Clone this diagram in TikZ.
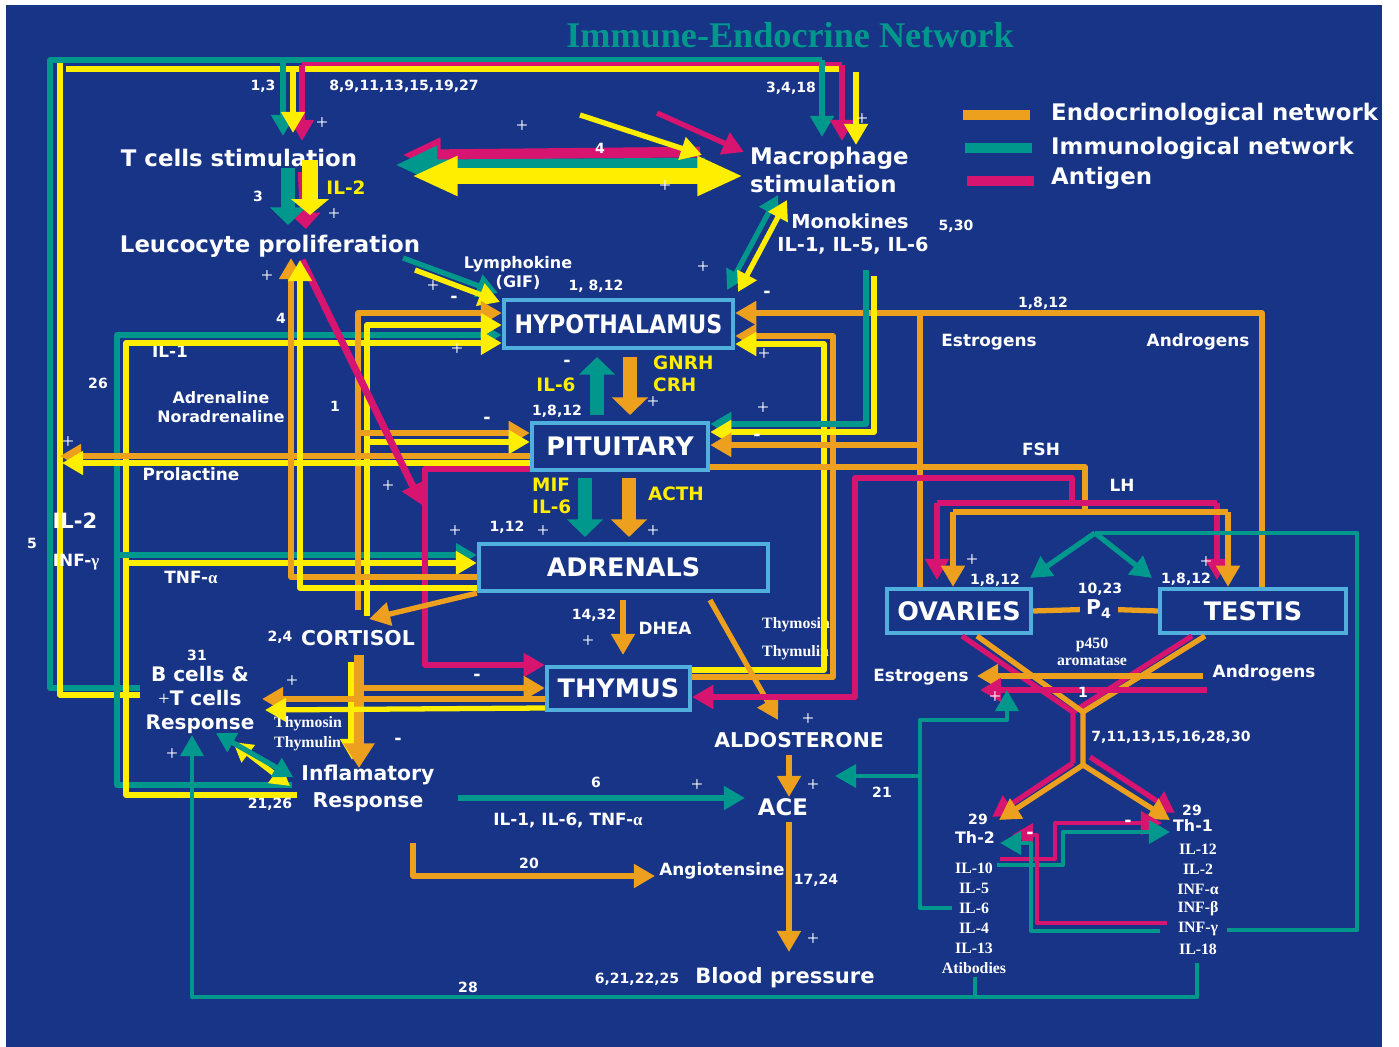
\documentclass[tikz,border=0pt]{standalone}
\usepackage{graphicx}
\usepackage{fontspec}
\setmainfont{DejaVu Sans}
\newfontfamily\timesfont{Liberation Serif}
\usetikzlibrary{arrows.meta}

\definecolor{netblue}{RGB}{24,52,134}
\definecolor{endo}{RGB}{236,160,30}
\definecolor{immu}{RGB}{0,152,140}
\definecolor{anti}{RGB}{215,20,112}
\definecolor{yell}{RGB}{255,238,0}
\definecolor{organline}{RGB}{80,175,220}

\tikzset{
	organ/.style={draw=organline,line width=2.5pt,fill=netblue,text=white,inner sep=0pt,
		font=\bfseries\fontsize{14.5}{15}\selectfont},
	big/.style={text=white,font=\bfseries\fontsize{13}{15.9}\selectfont},
	mid/.style={text=white,font=\bfseries\fontsize{11.6}{15.3}\selectfont},
	sml/.style={text=white,font=\bfseries\fontsize{9.6}{11.3}\selectfont},
	num/.style={text=white,font=\bfseries\fontsize{8}{9}\selectfont},
	hor/.style={text=yell,font=\bfseries\fontsize{10.5}{12.5}\selectfont},
	cyto/.style={text=white,font=\timesfont\bfseries\fontsize{9}{11}\selectfont},
	pls/.style={text=white,font=\timesfont\fontsize{12}{12}\selectfont,inner sep=0pt},
	mns/.style={text=white,font=\bfseries\fontsize{10}{10}\selectfont,inner sep=0pt},
	endo line/.style={draw=endo,line width=3pt,line join=round},
	immu line/.style={draw=immu,line width=3pt,line join=round},
	anti line/.style={draw=anti,line width=3pt,line join=round},
	yell line/.style={draw=yell,line width=3pt,line join=round},
	hd/.style={-{Triangle[length=12pt,width=13pt]}},
	hdd/.style={{Triangle[length=11pt,width=12pt]}-{Triangle[length=11pt,width=12pt]}},
	fathd/.style={line width=8pt,-{Triangle[length=10pt,width=20pt]}},
}

\begin{document}
\begin{tikzpicture}[x=0.02cm,y=-0.02cm]
	\useasboundingbox (0,0) rectangle (1399,1047);
	\fill[white] (0,0) rectangle (1399,1047);
	\fill[netblue] (6,5) rectangle (1382,1047);

	% the glands
	\node[organ,minimum width=4.58cm,minimum height=0.96cm] (hyp) at (618.5,324) {\scalebox{0.87}[1]{HYPOTHALAMUS}};
	\node[organ,minimum width=3.52cm,minimum height=0.94cm] (pit) at (620,446.5) {PITUITARY};
	\node[organ,minimum width=5.78cm,minimum height=0.94cm] (adr) at (623.5,567.5) {ADRENALS};
	\node[organ,minimum width=2.86cm,minimum height=0.86cm] (thy) at (618.5,688.5) {THYMUS};
	\node[organ,minimum width=2.88cm,minimum height=0.88cm] (ova) at (959,611) {OVARIES};
	\node[organ,minimum width=3.72cm,minimum height=0.88cm] (tes) at (1253,611) {TESTIS};
	\node[mid] (p4) at (1099,609) {P\textsubscript{4}};

	% title and legend
	\node[text=immu,font=\timesfont\bfseries\fontsize{20.6}{24}\selectfont] (ttl) at (790,35) {Immune-Endocrine Network};
	\draw[endo,line width=5.5pt] (963,115) -- (1030,115);
	\draw[immu,line width=5.5pt] (965,148) -- (1032,148);
	\draw[anti,line width=5.5pt] (967,181) -- (1034,181);
	\node[big,anchor=west] (lgendo) at (1045,114) {Endocrinological network};
	\node[big,anchor=west] (lgimmu) at (1045,148) {Immunological network};
	\node[big,anchor=west] (lganti) at (1045,178) {Antigen};

	% immune side
	\node[big] (tcell) at (239,158) {T cells stimulation};
	\node[big] (leuco) at (270,246) {Leucocyte proliferation};
	\node[big,anchor=west,align=left] (macro) at (744,170) {Macrophage\\stimulation};
	\node[mid,font=\bfseries\fontsize{11}{14}\selectfont] (mono) at (850,221) {Monokines};
	\node[mid,font=\bfseries\fontsize{11}{14}\selectfont] (monoil) at (853,246) {IL-1, IL-5, IL-6};
	\node[num] (n530) at (956,226) {5,30};
	\node[sml,font=\bfseries\fontsize{9.1}{11.3}\selectfont,align=center] (lympho) at (518,273) {Lymphokine\\(GIF)};
	\node[num] (n1812a) at (596,286) {1, 8,12};
	\node[num] (n13) at (263,86) {1,3};
	\node[num] (n8to27) at (404,86) {8,9,11,13,15,19,27};
	\node[num] (n3418) at (791,88) {3,4,18};
	\node[num] (n3) at (258,196) {3};
	\node[hor] (il2y) at (346,188) {IL-2};
	\node[num] (n4b) at (281,318) {4};
	\node[sml] (il1l) at (170,351) {IL-1};
	\node[num] (n26) at (98,383) {26};
	\node[sml,font=\bfseries\fontsize{9}{10.8}\selectfont,align=center] (adrnl) at (221,407) {Adrenaline\\Noradrenaline};
	\node[num] (n1a) at (335,406) {1};
	\node[sml] (prl) at (191,474) {Prolactine};
	\node[num] (n5) at (32,543) {5};
	\node[sml] (tnfa) at (191,577) {TNF-{\timesfont α}};
	\node[num] (n24) at (280,637) {2,4};
	\node[mid] (cort) at (358,638) {CORTISOL};
	\node[num] (n31) at (197,655) {31};
	\node[mid,font=\bfseries\fontsize{11.4}{13.9}\selectfont,align=center] (bcell) at (200,700) {B cells \&\\{\timesfont\mdseries +}T cells\\Response};
	\node[cyto,anchor=west] (thmsn) at (268,724) {Thymosin};
	\node[cyto,anchor=west] (thmln) at (268,744) {Thymulin};
	\node[mid,align=center] (inflam) at (368,788) {Inflamatory\\Response};

	% axis
	\node[hor,anchor=west,align=left] (gnrh) at (647,374) {GNRH\\CRH};
	\node[hor] (il6a) at (556,385) {IL-6};
	\node[num] (n1812b) at (557,411) {1,8,12};
	\node[hor,anchor=west,align=left] (mif) at (526,496) {MIF\\IL-6};
	\node[hor] (acth) at (676,494) {ACTH};
	\node[num] (n112) at (507,527) {1,12};
	\node[num] (n1432) at (594,615) {14,32};
	\node[sml] (dhea) at (665,628) {DHEA};
	\node[cyto,anchor=west] (thmsn2) at (756,625) {Thymosin};
	\node[cyto,anchor=west] (thmln2) at (756,653) {Thymulin};
	\node[mid] (aldo) at (799,740) {ALDOSTERONE};
	\node[big] (ace) at (783,807) {ACE};
	\node[num] (n6) at (596,782) {6};
	\node[sml] (ilmix) at (568,820) {IL-1, IL-6, TNF-{\timesfont α}};
	\node[num] (n20) at (529,863) {20};
	\node[sml] (angio) at (722,871) {Angiotensine};
	\node[num] (n1724) at (816,880) {17,24};
	\node[num] (n621) at (637,979) {6,21,22,25};
	\node[mid,font=\bfseries\fontsize{12}{14}\selectfont] (bp) at (785,978) {Blood pressure};
	\node[num] (n28) at (468,987) {28};
	\node[num] (n21) at (882,792) {21};

	% gonads
	\node[num] (n1812c) at (1043,303) {1,8,12};
	\node[sml] (estr1) at (989,342) {Estrogens};
	\node[sml] (andr1) at (1198,342) {Androgens};
	\node[sml] (fsh) at (1041,449) {FSH};
	\node[sml] (lh) at (1122,485) {LH};
	\node[num] (n1812d) at (995,580) {1,8,12};
	\node[num] (n1812e) at (1186,579) {1,8,12};
	\node[num] (n1023) at (1100,589) {10,23};
	\node[cyto] (p450) at (1092,645) {p450};
	\node[cyto] (arom) at (1092,661) {aromatase};
	\node[sml] (estr2) at (921,677) {Estrogens};
	\node[sml] (andr2) at (1264,673) {Androgens};
	\node[num] (n7to30) at (1171,737) {7,11,13,15,16,28,30};
	\node[num] (n29a) at (978,819) {29};
	\node[sml,font=\bfseries\fontsize{9}{10}\selectfont] (th2) at (975,837) {Th-2};
	\node[num] (n29b) at (1192,810) {29};
	\node[sml,font=\bfseries\fontsize{9}{10}\selectfont] (th1) at (1193,825) {Th-1};
	\foreach \c [count=\i] in {IL-10,IL-5,IL-6,IL-4,IL-13,Atibodies}
		\node[cyto] (thtwo\i) at (974,848+20*\i) {\c};
	\foreach \c [count=\i] in {IL-12,IL-2,INF-α,INF-β,INF-γ,IL-18}
		\node[cyto] (thone\i) at (1198,829+20*\i) {\c};

	% big loop on top
	\draw[immu line] (140,688) -- (50,688) -- (50,60) -- (822,60);
	\draw[anti line] (302,65) -- (842,65);
	\draw[yell line] (140,695) -- (60,695) -- (60,63);
	\draw[yell line] (66,69) -- (843,69);
	\draw[anti line,hd] (302,65) -- (302,141);
	\draw[immu line,hd] (283,60) -- (283,136);
	\draw[yell line,hd] (293,69) -- (293,133);
	\draw[immu line,hd] (822,60) -- (822,137);
	\draw[anti line,hd] (842,65) -- (842,141);
	\draw[yell line,hd] (856,72) -- (856,145);

	% T cells -> leucocytes
	\draw[anti line,line width=6pt,-{Triangle[length=9pt,width=17pt]}] (303,172) -- (306,229);
	\draw[immu line,fathd] (288,168) -- (288,225);
	\draw[yell line,line width=9pt,-{Triangle[length=9pt,width=21pt]}] (310,160) -- (310,215);

	% T cells <-> macrophage
	\draw[anti line,line width=6pt,-{Triangle[length=22pt,width=18pt]}] (700,152) -- (402,155);
	\draw[immu line,line width=6pt,-{Triangle[length=24pt,width=20pt]}] (705,163) -- (395,165);
	\draw[yell line,line width=9pt,{Triangle[length=26pt,width=21pt]}-{Triangle[length=26pt,width=21pt]}] (412,176) -- (743,176);
	\draw[yell line,hd] (580,115) -- (702,155);
	\draw[anti line,hd] (657,113) -- (744,152);
	\draw[immu line,hdd] (727,290) -- (778,195);
	\draw[yell line,hdd] (738,292) -- (787,200);
	\draw[immu line,hd] (403,258) -- (498,293);
	\draw[yell line,hd] (415,270) -- (500,302);

	% left frames
	\draw[immu line,hd] (292,785) -- (117,785) -- (117,335) -- (hyp.west |- 0,335);
	\draw[yell line,hd] (297,795) -- (126,795) -- (126,343) -- (hyp.west |- 0,343);
	\draw[immu line,hd] (117,555) -- (adr.west |- 0,555);
	\draw[yell line,hd] (126,563) -- (adr.west |- 0,563);
	\draw[endo line,hd] (358,610) -- (358,313) -- (hyp.west |- 0,313);
	\draw[yell line,hd] (367,616) -- (367,325) -- (hyp.west |- 0,325);
	\draw[endo line,hd] (358,433) -- (pit.west |- 0,433);
	\draw[yell line,hd] (367,442) -- (pit.west |- 0,442);
	\draw[endo line,hd] (pit.west |- 0,456) -- (60,456);
	\draw[yell line,hd] (pit.west |- 0,463) -- (62,463);
	\draw[anti line,hd] (pit.west |- 0,469) -- (425,469) -- (425,665) -- (thy.west |- 0,665);
	\draw[anti line,line width=4pt,hd] (302,260) -- (422,505);
	\draw[endo line,hd] (adr.west |- 0,577) -- (291,577) -- (291,258);
	\draw[yell line,hd] (adr.west |- 0,588) -- (300,588) -- (300,260);

	% cortisol, thymus
	\draw[endo line,hd] (adr.south west) -- (369,619);
	\draw[yell line,line width=4pt,hd] (352,662) -- (352,760);
	\draw[endo line,line width=6pt,-{Triangle[length=14pt,width=17pt]}] (359,655) -- (359,768);
	\draw[endo line,hd] (360,688) -- (thy.west |- 0,688);
	\draw[endo line,hd] (thy.west |- 0,699) -- (262,699);
	\draw[yell line,hd] (thy.west |- 0,708) -- (265,710);
	\draw[endo line,hd] (thy.east |- 0,677) -- (833,677) -- (833,336) -- (hyp.east |- 0,336);
	\draw[yell line,hd] (thy.east |- 0,670) -- (824,670) -- (824,344) -- (hyp.east |- 0,344);
	\draw[yell line,hdd] (233,742) -- (290,786);
	\draw[immu line,hdd] (216,733) -- (293,777);

	% down the axis
	\draw[immu line,fathd] (597,415) -- (597,357);
	\draw[endo line,fathd] (630,357) -- (630,415);
	\draw[immu line,fathd] (585,478) -- (585,537);
	\draw[endo line,fathd] (629,478) -- (629,537);
	\draw[endo line,hd] (623,600) -- (623,655);
	\draw[endo line,hd] (710,600) -- (778,720);
	\draw[endo line,hd] (789,755) -- (789,797);
	\draw[endo line,hd] (789,822) -- (789,952);
	\draw[immu line,hd] (458,798) -- (745,798);
	\draw[endo line,hd] (413,843) -- (413,876) -- (655,876);

	% right side
	\draw[endo line,hd] (tes.north -| 1262,0) -- (1262,313) -- (hyp.east |- 0,313);
	\draw[endo line] (920,313) -- (ova.north -| 920,0);
	\draw[immu line,hd] (866,270) -- (866,424) -- (pit.east |- 0,424);
	\draw[yell line,hd] (874,276) -- (874,432) -- (pit.east |- 0,432);
	\draw[endo line,hd] (920,445) -- (pit.east |- 0,445);
	\draw[endo line] (pit.east |- 0,467) -- (1085,467) -- (1085,512);
	\draw[anti line,hd] (1072,503) -- (1072,478) -- (855,478) -- (855,697) -- (thy.east |- 0,697);
	\draw[anti line] (937,503) -- (1217,503);
	\draw[anti line,hd] (937,503) -- (937,580);
	\draw[anti line,hd] (1217,503) -- (1217,580);
	\draw[endo line] (953,512) -- (1228,512);
	\draw[endo line,hd] (953,512) -- (ova.north -| 953,0);
	\draw[endo line,hd] (1228,512) -- (tes.north -| 1228,0);
	\draw[immu line,line width=2.4pt] (1095,533) -- (1357,533) -- (1357,930) -- (1227,930);
	\draw[immu line,hd] (1095,533) -- (1030,578);
	\draw[immu line,hd] (1095,533) -- (1152,578);
	\draw[endo line] (ova.east) -- (p4);
	\draw[endo line] (p4) -- (tes.west);

	% crossing below the gonads
	\draw[anti line] (962,636) -- (1073,712) -- (1073,763);
	\draw[anti line] (1192,636) -- (1073,712);
	\draw[anti line,hd] (1073,763) -- (992,817);
	\draw[anti line,hd] (1090,757) -- (1175,813);
	\draw[endo line] (977,636) -- (1083,712) -- (1083,765);
	\draw[endo line] (1205,636) -- (1083,712);
	\draw[endo line,hd] (1083,765) -- (999,820);
	\draw[endo line,hd] (1083,765) -- (1170,820);
	\draw[endo line,hd] (1203,676) -- (977,676);
	\draw[anti line,hd] (1207,690) -- (980,690);
	\draw[immu line,line width=2.4pt,hd] (952,908) -- (920,908) -- (920,720) -- (1007,720) -- (1007,690);
	\draw[immu line,line width=2.4pt,hd] (920,776) -- (835,776);
	\draw[anti line,line width=2.4pt,hd] (1000,859) -- (1055,859) -- (1055,823) -- (1162,823);
	\draw[immu line,line width=2.4pt,hd] (997,865) -- (1063,865) -- (1063,832) -- (1170,832);
	\draw[anti line,line width=2.4pt,hd] (1167,923) -- (1037,923) -- (1037,835) -- (1012,835);
	\draw[immu line,line width=2.4pt,hd] (1160,931) -- (1031,931) -- (1031,843) -- (1000,843);
	\draw[immu line,line width=2.4pt] (975,977) -- (975,997);
	\draw[immu line,line width=2.4pt,hd] (1197,963) -- (1197,997) -- (192,997) -- (192,735);

	% labels on top of the lines
	\node[mid,font=\bfseries\fontsize{12}{14}\selectfont] (il2l) at (75,521) {IL-2};
	\node[sml] (infg) at (76,562) {INF-{\timesfont γ}};
	\node[num] (n4a) at (600,148) {4};
	\node[num] (n1b) at (1083,692) {1};
	\node[num] (n2126) at (270,804) {21,26};

	\foreach \p [count=\i] in {(322,124),(334,215),(522,127),(665,187),(862,120),(267,277),(433,287),(457,350),(703,268),(764,355),(653,403),(763,409),(388,487),(455,532),(543,532),(653,532),(588,642),(68,443),(292,682),(172,755),(697,786),(808,720),(813,786),(813,940),(972,561),(1206,563),(995,698)}
		\node[pls] (pl\i) at \p {+};
	\foreach \p [count=\i] in {(454,299),(767,294),(567,363),(487,420),(757,437),(477,677),(398,741),(1128,823),(1030,835)}
		\node[mns] (mn\i) at \p {-};
\end{tikzpicture}
\end{document}
